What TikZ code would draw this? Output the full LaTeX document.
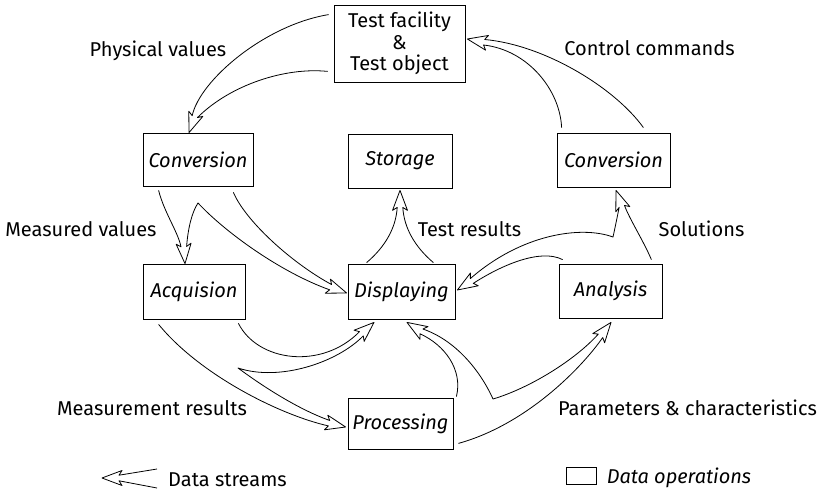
\documentclass[tikz,border=0pt]{standalone}
\usepackage{fontspec}
\setmainfont{Fira Sans}
\usetikzlibrary{calc}
% arrow head: name, tip, back-direction angle (image coordinates)
\newcommand{\mkhead}[3]{%
  \coordinate (#1-t) at (#2);
  \coordinate (#1-b1) at ($(#1-t)+(#3:20)+(#3+90:7.5)$);
  \coordinate (#1-b2) at ($(#1-t)+(#3:20)+(#3-90:7.5)$);
  \coordinate (#1-n1) at ($(#1-t)+(#3:17)+(#3+90:2.8)$);
  \coordinate (#1-n2) at ($(#1-t)+(#3:17)+(#3-90:2.8)$);
}
\begin{document}
\begin{tikzpicture}[x=0.75pt,y=-0.75pt,line width=0.6pt,
  box/.style={draw,inner sep=0pt,align=center,font=\fontsize{15}{16}\selectfont\itshape},
  lbl/.style={anchor=base,inner sep=0pt,font=\fontsize{15}{18}\selectfont},
  stream/.style={draw,line join=round}]
\path[use as bounding box] (0,0) rectangle (821,492);

% boxes
\node[box,minimum width=98.25pt,minimum height=57.75pt,font=\fontsize{15}{16}\selectfont] (test) at (399.5,43.5) {Test facility\\\&\\Test object};
\node[box,minimum width=82.5pt,minimum height=39.75pt] (conv1) at (198,159.5) {Conversion};
\node[box,minimum width=78pt,minimum height=40.5pt] (storage) at (400,161) {Storage};
\node[box,minimum width=84.75pt,minimum height=40.5pt] (conv2) at (613.5,160) {Conversion};
\node[box,minimum width=76.5pt,minimum height=41.25pt] (acq) at (194,291.5) {Acquision};
\node[box,minimum width=80.25pt,minimum height=41.25pt] (disp) at (401.5,291.5) {Displaying};
\node[box,minimum width=77.25pt,minimum height=40.5pt] (ana) at (610.5,291) {Analysis};
\node[box,minimum width=78.75pt,minimum height=38.25pt] (proc) at (400.5,423.5) {Processing};

% labels
\node[lbl] (lphys) at (158,56.5) {Physical values};
\node[lbl] (lctrl) at (649.5,56) {Control commands};
\node[lbl] (lmeas) at (81,236.5) {Measured values};
\node[lbl] (ltest) at (469.5,236.5) {Test results};
\node[lbl] (lsol) at (701.5,236.5) {Solutions};
\node[lbl] (lmres) at (152,415) {Measurement results};
\node[lbl] (lpar) at (687.5,415) {Parameters \& characteristics};
\node[lbl] (lds) at (227.5,486) {Data streams};
\node[lbl,font=\fontsize{15}{18}\selectfont\itshape] (ldo) at (679,483) {Data operations};
\node[draw,inner sep=0pt,minimum width=22.5pt,minimum height=12.75pt] (legbox) at (581,475.5) {};

% heads
\mkhead{ha}{$(conv1.north)+(-9,0)$}{290}
\mkhead{hb}{$(test.east)+(2,-4.5)$}{11}
\mkhead{hc1}{$(acq.north)+(-9,0)$}{266}
\mkhead{hc2}{$(disp.west)+(-1,1.5)$}{200}
\mkhead{hd}{$(storage.south)+(0,2)$}{90}
\mkhead{he1}{$(conv2.south)+(2.5,3)$}{70}
\mkhead{he2}{$(disp.east)+(2,-1.5)$}{328}
\mkhead{hf1}{$(disp.south)+(-27.5,3)$}{138}
\mkhead{hf2}{$(proc.west)+(-2,3.5)$}{193}
\mkhead{hg1}{$(disp.south)+(5.5,3)$}{32}
\mkhead{hg2}{$(ana.south)+(0.5,4)$}{128}
\mkhead{hl}{102,478}{0}

% free ends
\coordinate (a-out) at ($(test.north west)+(-5,10)$);
\coordinate (a-in) at ($(test.south west)+(-6,-11)$);
\coordinate (b-in) at ($(conv2.north west)+(5,-5)$);
\coordinate (b-out) at ($(conv2.north east)+(-27,-5)$);
\coordinate (c-l) at ($(conv1.south west)+(16,4)$);
\coordinate (c-r) at ($(conv1.south east)+(-20,6)$);
\coordinate (c-peak) at (198,203);
\coordinate (d-l) at ($(disp.north west)+(19,-1)$);
\coordinate (d-r) at ($(disp.north east)+(-22,-1)$);
\coordinate (e-r) at ($(ana.north east)+(-11,-4)$);
\coordinate (e-l) at ($(ana.north west)+(4,-4)$);
\coordinate (e-v) at (613,237);
\coordinate (f-u) at ($(acq.south east)+(-7,4)$);
\coordinate (f-o) at ($(acq.south west)+(16,5)$);
\coordinate (f-v) at (238,368);
\coordinate (g-t) at ($(proc.north east)+(3,-1)$);
\coordinate (g-b) at ($(proc.south east)+(5,-6)$);
\coordinate (g-v) at (493,399);
\coordinate (leg-u) at (157,469);
\coordinate (leg-l) at (157,488);

% streams
\draw[stream] (a-in) .. controls (285,67) and (230,85) .. (ha-n1) -- (ha-b1) -- (ha-t) -- (ha-b2) -- (ha-n2) .. controls (200,80) and (265,25) .. (a-out);
\draw[stream] (b-in) .. controls (560,90) and (528,50) .. (hb-n1) -- (hb-b1) -- (hb-t) -- (hb-b2) -- (hb-n2) .. controls (545,45) and (615,88) .. (b-out);
\draw[stream] (c-l) .. controls (164,212) and (178,232) .. (hc1-n2) -- (hc1-b2) -- (hc1-t) -- (hc1-b1) -- (hc1-n1) .. controls (188,228) and (192,212) .. (c-peak) .. controls (225,232) and (280,272) .. (hc2-n2) -- (hc2-b2) -- (hc2-t) -- (hc2-b1) -- (hc2-n1) .. controls (290,262) and (245,220) .. (c-r);
\draw[stream] (d-l) .. controls (385,247) and (396,228) .. (hd-n1) -- (hd-b1) -- (hd-t) -- (hd-b2) -- (hd-n2) .. controls (404,228) and (415,247) .. (d-r);
\draw[stream] (e-r) .. controls (643,240) and (630,220) .. (he1-n2) -- (he1-b2) -- (he1-t) -- (he1-b1) -- (he1-n1) .. controls (617,218) and (615,228) .. (e-v) .. controls (580,225) and (520,235) .. (he2-n2) -- (he2-b2) -- (he2-t) -- (he2-b1) -- (he2-n1) .. controls (500,266) and (540,248) .. (e-l);
\draw[stream] (f-u) .. controls (258,362) and (322,370) .. (hf1-n1) -- (hf1-b1) -- (hf1-t) -- (hf1-b2) -- (hf1-n2) .. controls (338,362) and (280,382) .. (f-v) .. controls (265,388) and (300,410) .. (hf2-n1) -- (hf2-b1) -- (hf2-t) -- (hf2-b2) -- (hf2-n2) .. controls (280,415) and (200,375) .. (f-o);
\draw[stream] (g-t) .. controls (463,370) and (445,345) .. (hg1-n1) -- (hg1-b1) -- (hg1-t) -- (hg1-b2) -- (hg1-n2) .. controls (455,340) and (480,370) .. (g-v) .. controls (530,388) and (575,360) .. (hg2-n1) -- (hg2-b1) -- (hg2-t) -- (hg2-b2) -- (hg2-n2) .. controls (580,370) and (525,425) .. (g-b);
\draw[stream] (leg-u) -- (hl-n2) -- (hl-b2) -- (hl-t) -- (hl-b1) -- (hl-n1) -- (leg-l);
\end{tikzpicture}
\end{document}
